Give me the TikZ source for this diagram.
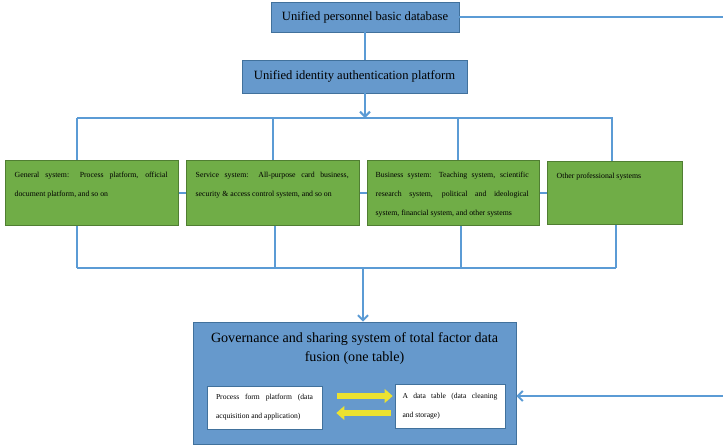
\documentclass[tikz,border=0pt]{standalone}
\usepackage{fontspec}
\setmainfont{Liberation Serif}
\usetikzlibrary{arrows.meta}
\usetikzlibrary{positioning}

\definecolor{boxblue}{RGB}{102,153,204}
\definecolor{edgeblue}{RGB}{65,113,156}
\definecolor{lineblue}{RGB}{91,155,213}
\definecolor{boxgreen}{RGB}{112,173,71}
\definecolor{edgegreen}{RGB}{80,126,50}
\definecolor{arrowyellow}{RGB}{236,226,48}
\newcommand{\nohyph}{\hyphenpenalty=10000\relax}

\tikzset{
  bluebox/.style={draw=edgeblue, fill=boxblue, line width=0.8pt, inner sep=0pt,
    font=\fontsize{12.6}{15}\selectfont},
  greenbox/.style={draw=edgegreen, fill=boxgreen, line width=1pt, inner sep=0pt},
  whitebox/.style={draw=edgeblue, fill=white, line width=0.6pt, inner sep=0pt,
    align=justify, font=\fontsize{7.6}{19}\selectfont\nohyph},
  gtext/.style={inner sep=0pt, anchor=north west, text width=153pt, align=justify,
    font=\fontsize{7.8}{19}\selectfont\nohyph},
  link/.style={draw=lineblue, line width=2pt},
  barb/.style={-{Straight Barb[length=5pt,width=10pt]}},
  yarrow/.style={draw=arrowyellow, line width=6pt,
    -{Triangle[length=8pt,width=14pt,line width=0pt]}}
}

\begin{document}
\begin{tikzpicture}[x=1pt,y=-1pt]
\useasboundingbox (0,0) rectangle (723,445);

\node[bluebox, minimum width=188pt, minimum height=30pt] (base) at (365,17)
  {Unified personnel basic database};
\node[bluebox, minimum width=225pt, minimum height=33pt] (auth) at (354.5,76.5)
  {Unified identity authentication platform};

\node[greenbox, minimum width=173pt, minimum height=65pt] (g1) at (91.5,192.5) {};
\node[greenbox, minimum width=173pt, minimum height=65pt] (g2) at (272.5,192.5) {};
\node[greenbox, minimum width=172pt, minimum height=65pt] (g3) at (453,192.5) {};
\node[greenbox, minimum width=135pt, minimum height=63pt] (g4) at (614.5,192.5) {};

\node[gtext] (g1t) at ([shift={(10,12.5)}]g1.north west)
  {General system: Process platform, official\linebreak document platform, and so on};
\node[gtext] (g2t) at ([shift={(10,12.5)}]g2.north west)
  {Service system: All-purpose card business,\linebreak security \& access control system, and so on};
\node[gtext] (g3t) at ([shift={(9,12.5)}]g3.north west)
  {Business system: Teaching system, scientific\linebreak research system, political and ideological\linebreak system, financial system, and other systems};
\node[gtext] (g4t) at ([shift={(10,12)}]g4.north west)
  {Other professional systems};

\node[bluebox, minimum width=323pt, minimum height=122pt] (gov) at (354.5,383) {};
\node[inner sep=0pt, align=center, font=\fontsize{14.1}{19}\selectfont] (govt)
  at (354.5,349) {Governance and sharing system of total factor data\\ fusion (one table)};
\node[whitebox, minimum width=115pt, minimum height=43pt, text width=97pt] (p1)
  at (264.5,407.5) {Process form platform (data\linebreak acquisition and application)};
\node[whitebox, minimum width=110pt, minimum height=44pt, text width=95pt] (p2)
  at (450,406) {A data table (data cleaning\linebreak and storage)};

% bus lines
\coordinate (busT) at (365,118);
\coordinate (busB) at (363,268);
\draw[link] (base.south -| busT) -- (auth.north -| busT);
\draw[link, barb] (auth.south -| busT) -- (busT);
\draw[link] (77,118) -- (613,118);
\foreach \x/\g in {77/g1, 273/g2, 458/g3, 612/g4}
  \draw[link] (\x,118) -- (\x,118 |- \g.north);
\draw[link] (g1.east) -- (g2.west);
\draw[link] (g2.east) -- (g3.west);
\draw[link] (g3.east) -- (g4.west);
\foreach \x/\g in {77/g1, 275/g2, 461/g3, 616/g4}
  \draw[link] (\x,268 |- \g.south) -- (\x,268);
\draw[link] (77,268) -- (616,268);
\draw[link, barb] (busB) -- (busB |- gov.north);

% right side
\coordinate (edgeT) at (723,17);
\coordinate (edgeB) at (723,396);
\draw[link] (base.east) -- (edgeT);
\draw[link, barb] (edgeB) -- (edgeB -| gov.east);

% exchange arrows
\draw[yarrow, shorten <=15pt, shorten >=2pt] (p1.east |- 0,396) -- (p2.west |- 0,396);
\draw[yarrow, shorten <=4pt, shorten >=14pt] (p2.west |- 0,413) -- (p1.east |- 0,413);
\end{tikzpicture}
\end{document}
